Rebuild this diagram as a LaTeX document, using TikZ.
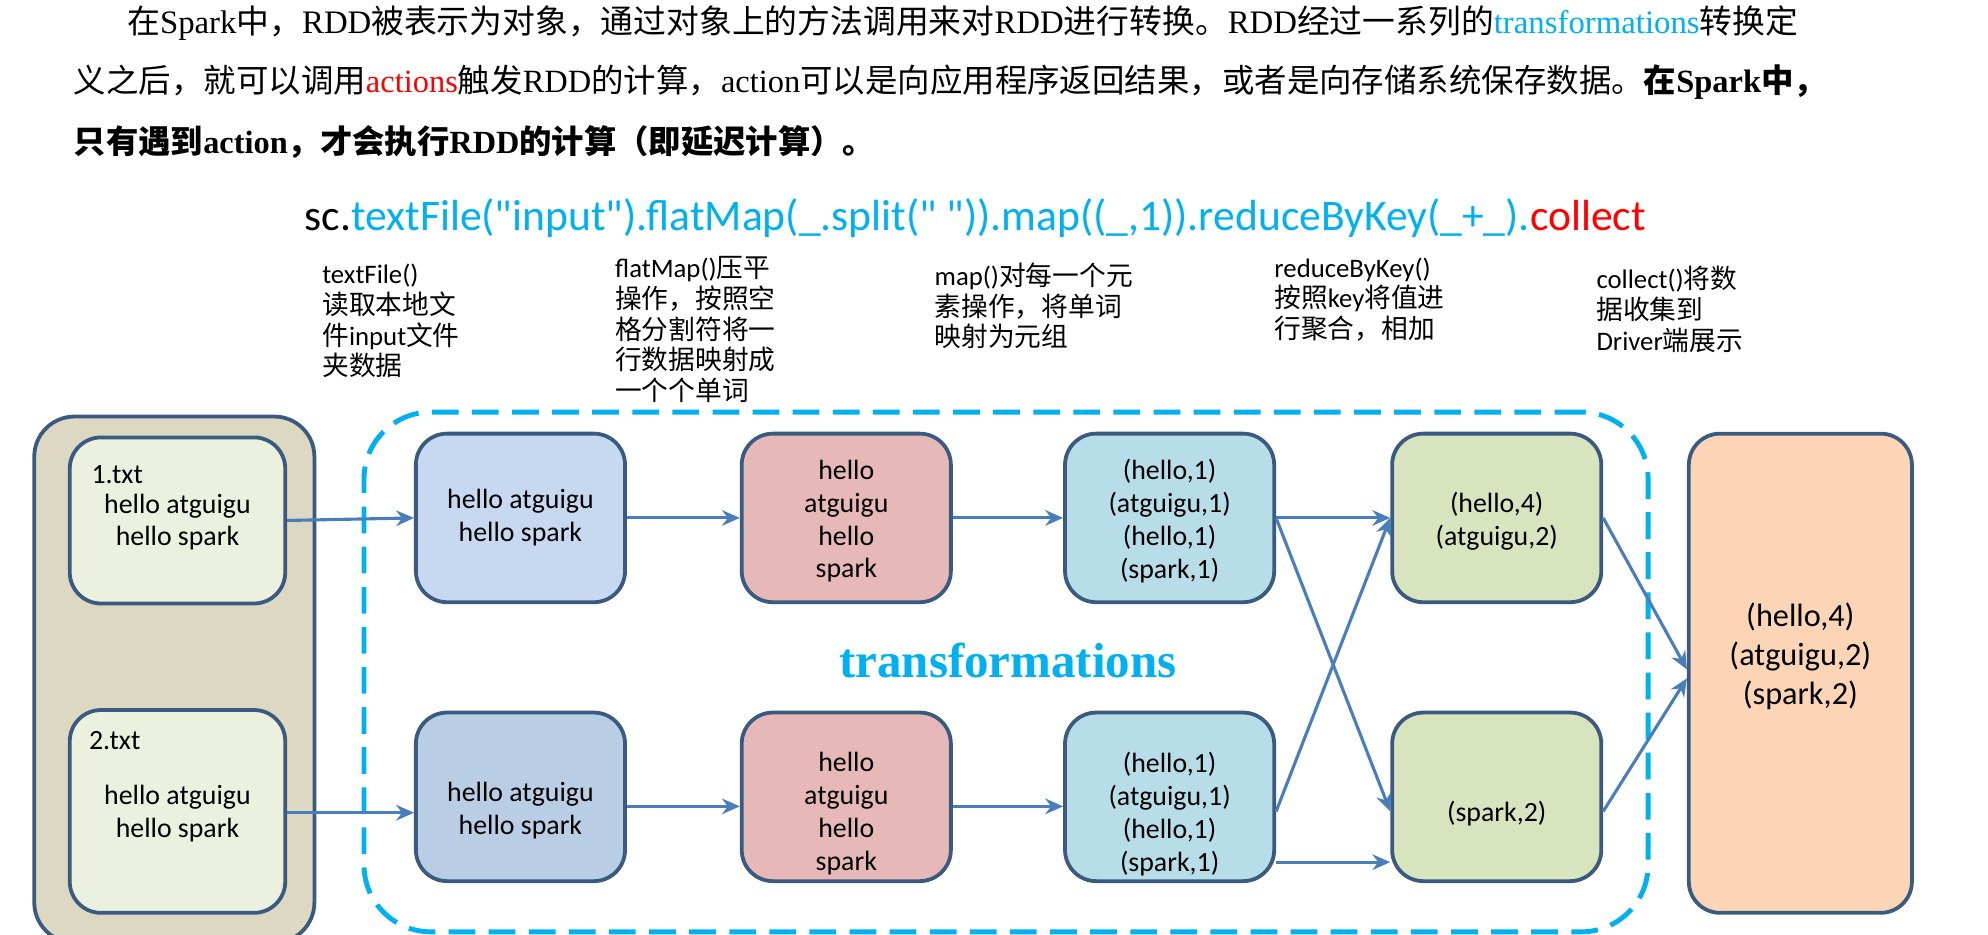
\documentclass[tikz,border=0pt]{standalone}
\usepackage{fontspec}
\setmainfont{Liberation Serif}
\newfontfamily\cjk{Noto Sans CJK SC}
\newfontfamily\calf{Carlito}
\usetikzlibrary{arrows.meta}
\definecolor{bd}{HTML}{3B5A80}
\definecolor{ar}{HTML}{4A7EBB}
\definecolor{cy}{HTML}{00B0F0}
\newcommand{\zh}[1]{{\cjk #1}}
\begin{document}
\begin{tikzpicture}[x=0.02cm,y=-0.02cm,
 box/.style={draw=bd,line width=1.7pt,rounded corners=14pt,minimum width=3.3cm,minimum height=2.66cm,align=center,font=\calf\fontsize{12.5}{14.8}\selectfont},
 inbox/.style={label={[align=center,yshift=#1,font=\calf\fontsize{12.5}{14.8}\selectfont]center:\boxtext}},
 ann/.style={anchor=north west,align=left,font=\calf\fontsize{12}{13.8}\selectfont},
 con/.style={draw=ar,line width=1.4pt,-{Stealth[length=8pt,width=7pt]}},
 txt/.style={font=\calf\fontsize{12.5}{14.4}\selectfont}]
\useasboundingbox (0,0) rectangle (1568,737);
\clip (0,0) rectangle (1568,737);
% paragraph
\node[anchor=west,inner sep=0] (p1) at (100,18) {\resizebox{26.36cm}{!}{\zh{在}Spark\zh{中，}RDD\zh{被表示为对象，通过对象上的方法调用来对}RDD\zh{进行转换。}RDD\zh{经过一系列的}\textcolor{cy}{transformations}\zh{转换定}}};
\node[anchor=west,inner sep=0] (p2) at (58,65) {\resizebox{27.64cm}{!}{\zh{义之后，就可以调用}\textcolor{red}{actions}\zh{触发}RDD\zh{的计算，}action\zh{可以是向应用程序返回结果，或者是向存储系统保存数据。}\textbf{\zh{在}Spark\zh{中，}}}};
\node[anchor=west,inner sep=0] (p3) at (58,112) {\resizebox{12.64cm}{!}{\textbf{{\cjk\bfseries 只有遇到}action{\cjk\bfseries ，才会执行}RDD{\cjk\bfseries 的计算（即延迟计算）。}}}};
% code
\node[anchor=west,inner sep=0] (code) at (240,172) {\resizebox{21.16cm}{!}{\calf sc.\textcolor{cy}{textFile("input").flatMap(\_.split(" ")).map((\_,1)).reduceByKey(\_+\_).}\textcolor{red}{collect}}};
% annotations
\node[ann] (n1) at (248,202) {textFile()\\\zh{读取本地文}\\\zh{件}input\zh{文件}\\\zh{夹数据}};
\node[ann] (n2) at (479,196) {flatMap()\zh{压平}\\\zh{操作，按照空}\\\zh{格分割符将一}\\\zh{行数据映射成}\\\zh{一个个单词}};
\node[ann] (n3) at (731,201) {map()\zh{对每一个元}\\\zh{素操作，将单词}\\\zh{映射为元组}};
\node[ann] (n4) at (999,197) {reduceByKey()\\\zh{按照}key\zh{将值进}\\\zh{行聚合，相加}};
\node[ann] (n5) at (1253,204) {collect()\zh{将数}\\\zh{据收集到}\\Driver\zh{端展示}};
% containers
\node[draw=bd,line width=1.7pt,fill={rgb,255:red,221;green,216;blue,194},rounded corners=18pt,minimum width=4.42cm,minimum height=8.3cm] (L) at (137.5,536) {};
\node[draw=cy,line width=2.2pt,dash pattern=on 12pt off 6pt,rounded corners=30pt,minimum width=20.26cm,minimum height=8.2cm] (T) at (793.5,530) {};
\node[box,fill={rgb,255:red,235;green,241;blue,222},minimum width=3.4cm,minimum height=2.62cm] (f1) at (140,410.5) {};
\node[box,fill={rgb,255:red,235;green,241;blue,222},minimum width=3.4cm,minimum height=3.2cm] (f2) at (140,640) {};
\node[txt,anchor=west] (f1t) at (66,374) {1.txt};
\node[txt] (f1a) at (140,399) {hello atguigu};
\node[txt] (f1b) at (140,424) {hello spark};
\node[txt,anchor=west] (f2t) at (64,584) {2.txt};
\node[txt] (f2a) at (140,629) {hello atguigu};
\node[txt] (f2b) at (140,655) {hello spark};
% row boxes
\node[box,fill={rgb,255:red,198;green,217;blue,241}] (A1) at (410.5,408.5) {\raisebox{-0.5ex}{}hello atguigu\\hello spark};
\node[box,fill={rgb,255:red,230;green,185;blue,184},label={[align=center,yshift=-0.05cm,font=\calf\fontsize{12.5}{14.8}\selectfont]center:hello\\atguigu\\hello\\spark}] (B1) at (667.5,408.5) {};
\node[box,fill={rgb,255:red,183;green,222;blue,232},label={[align=center,yshift=-0.05cm,font=\calf\fontsize{12.5}{14.8}\selectfont]center:(hello,1)\\(atguigu,1)\\(hello,1)\\(spark,1)}] (C1) at (922.5,408.5) {};
\node[box,fill={rgb,255:red,215;green,228;blue,189},label={[align=center,yshift=-0.05cm,font=\calf\fontsize{12.5}{14.8}\selectfont]center:(hello,4)\\(atguigu,2)}] (D1) at (1180.5,408.5) {};
\node[box,fill={rgb,255:red,185;green,205;blue,229},label={[align=center,yshift=-0.22cm,font=\calf\fontsize{12.5}{14.8}\selectfont]center:hello atguigu\\hello spark}] (A2) at (410.5,628.5) {};
\node[box,fill={rgb,255:red,230;green,185;blue,184},label={[align=center,yshift=-0.27cm,font=\calf\fontsize{12.5}{14.8}\selectfont]center:hello\\atguigu\\hello\\spark}] (B2) at (667.5,628.5) {};
\node[box,fill={rgb,255:red,183;green,222;blue,232},label={[align=center,yshift=-0.27cm,font=\calf\fontsize{12.5}{14.8}\selectfont]center:(hello,1)\\(atguigu,1)\\(hello,1)\\(spark,1)}] (C2) at (922.5,628.5) {};
\node[box,fill={rgb,255:red,215;green,228;blue,189},label={[align=center,yshift=-0.27cm,font=\calf\fontsize{12.5}{14.8}\selectfont]center:(spark,2)}] (D2) at (1180.5,628.5) {};
\node[box,fill={rgb,255:red,251;green,213;blue,181},minimum width=3.52cm,minimum height=7.56cm,label={[align=center,yshift=0.27cm,font=\calf\fontsize{14.5}{17.6}\selectfont]center:(hello,4)\\(atguigu,2)\\(spark,2)}] (R) at (1420,531) {};
\node[font=\bfseries\fontsize{22}{26}\selectfont,text=cy] (tr) at (795,521) {transformations};
% connectors
\draw[con] (f1.east) -- (A1.west);
\draw[con] (f2.east |- 0,641) -- (A2.west |- 0,641);
\draw[con] (A1) -- (B1); \draw[con] (B1) -- (C1); \draw[con] (C1) -- (D1);
\draw[con] (A2.east |- 0,636) -- (B2.west |- 0,636);
\draw[con] (B2.east |- 0,636) -- (C2.west |- 0,636);
\draw[con] (C1.east) -- (D2.west |- 0,640);
\draw[con] (C2.east |- 0,640) -- (D1.west);
\draw[con] (C2.east |- 0,680) -- (D2.west |- 0,680);
\draw[con] (D1.east) -- (R.west |- 0,528);
\draw[con] (D2.east |- 0,640) -- (R.west |- 0,535);
\end{tikzpicture}
\end{document}
